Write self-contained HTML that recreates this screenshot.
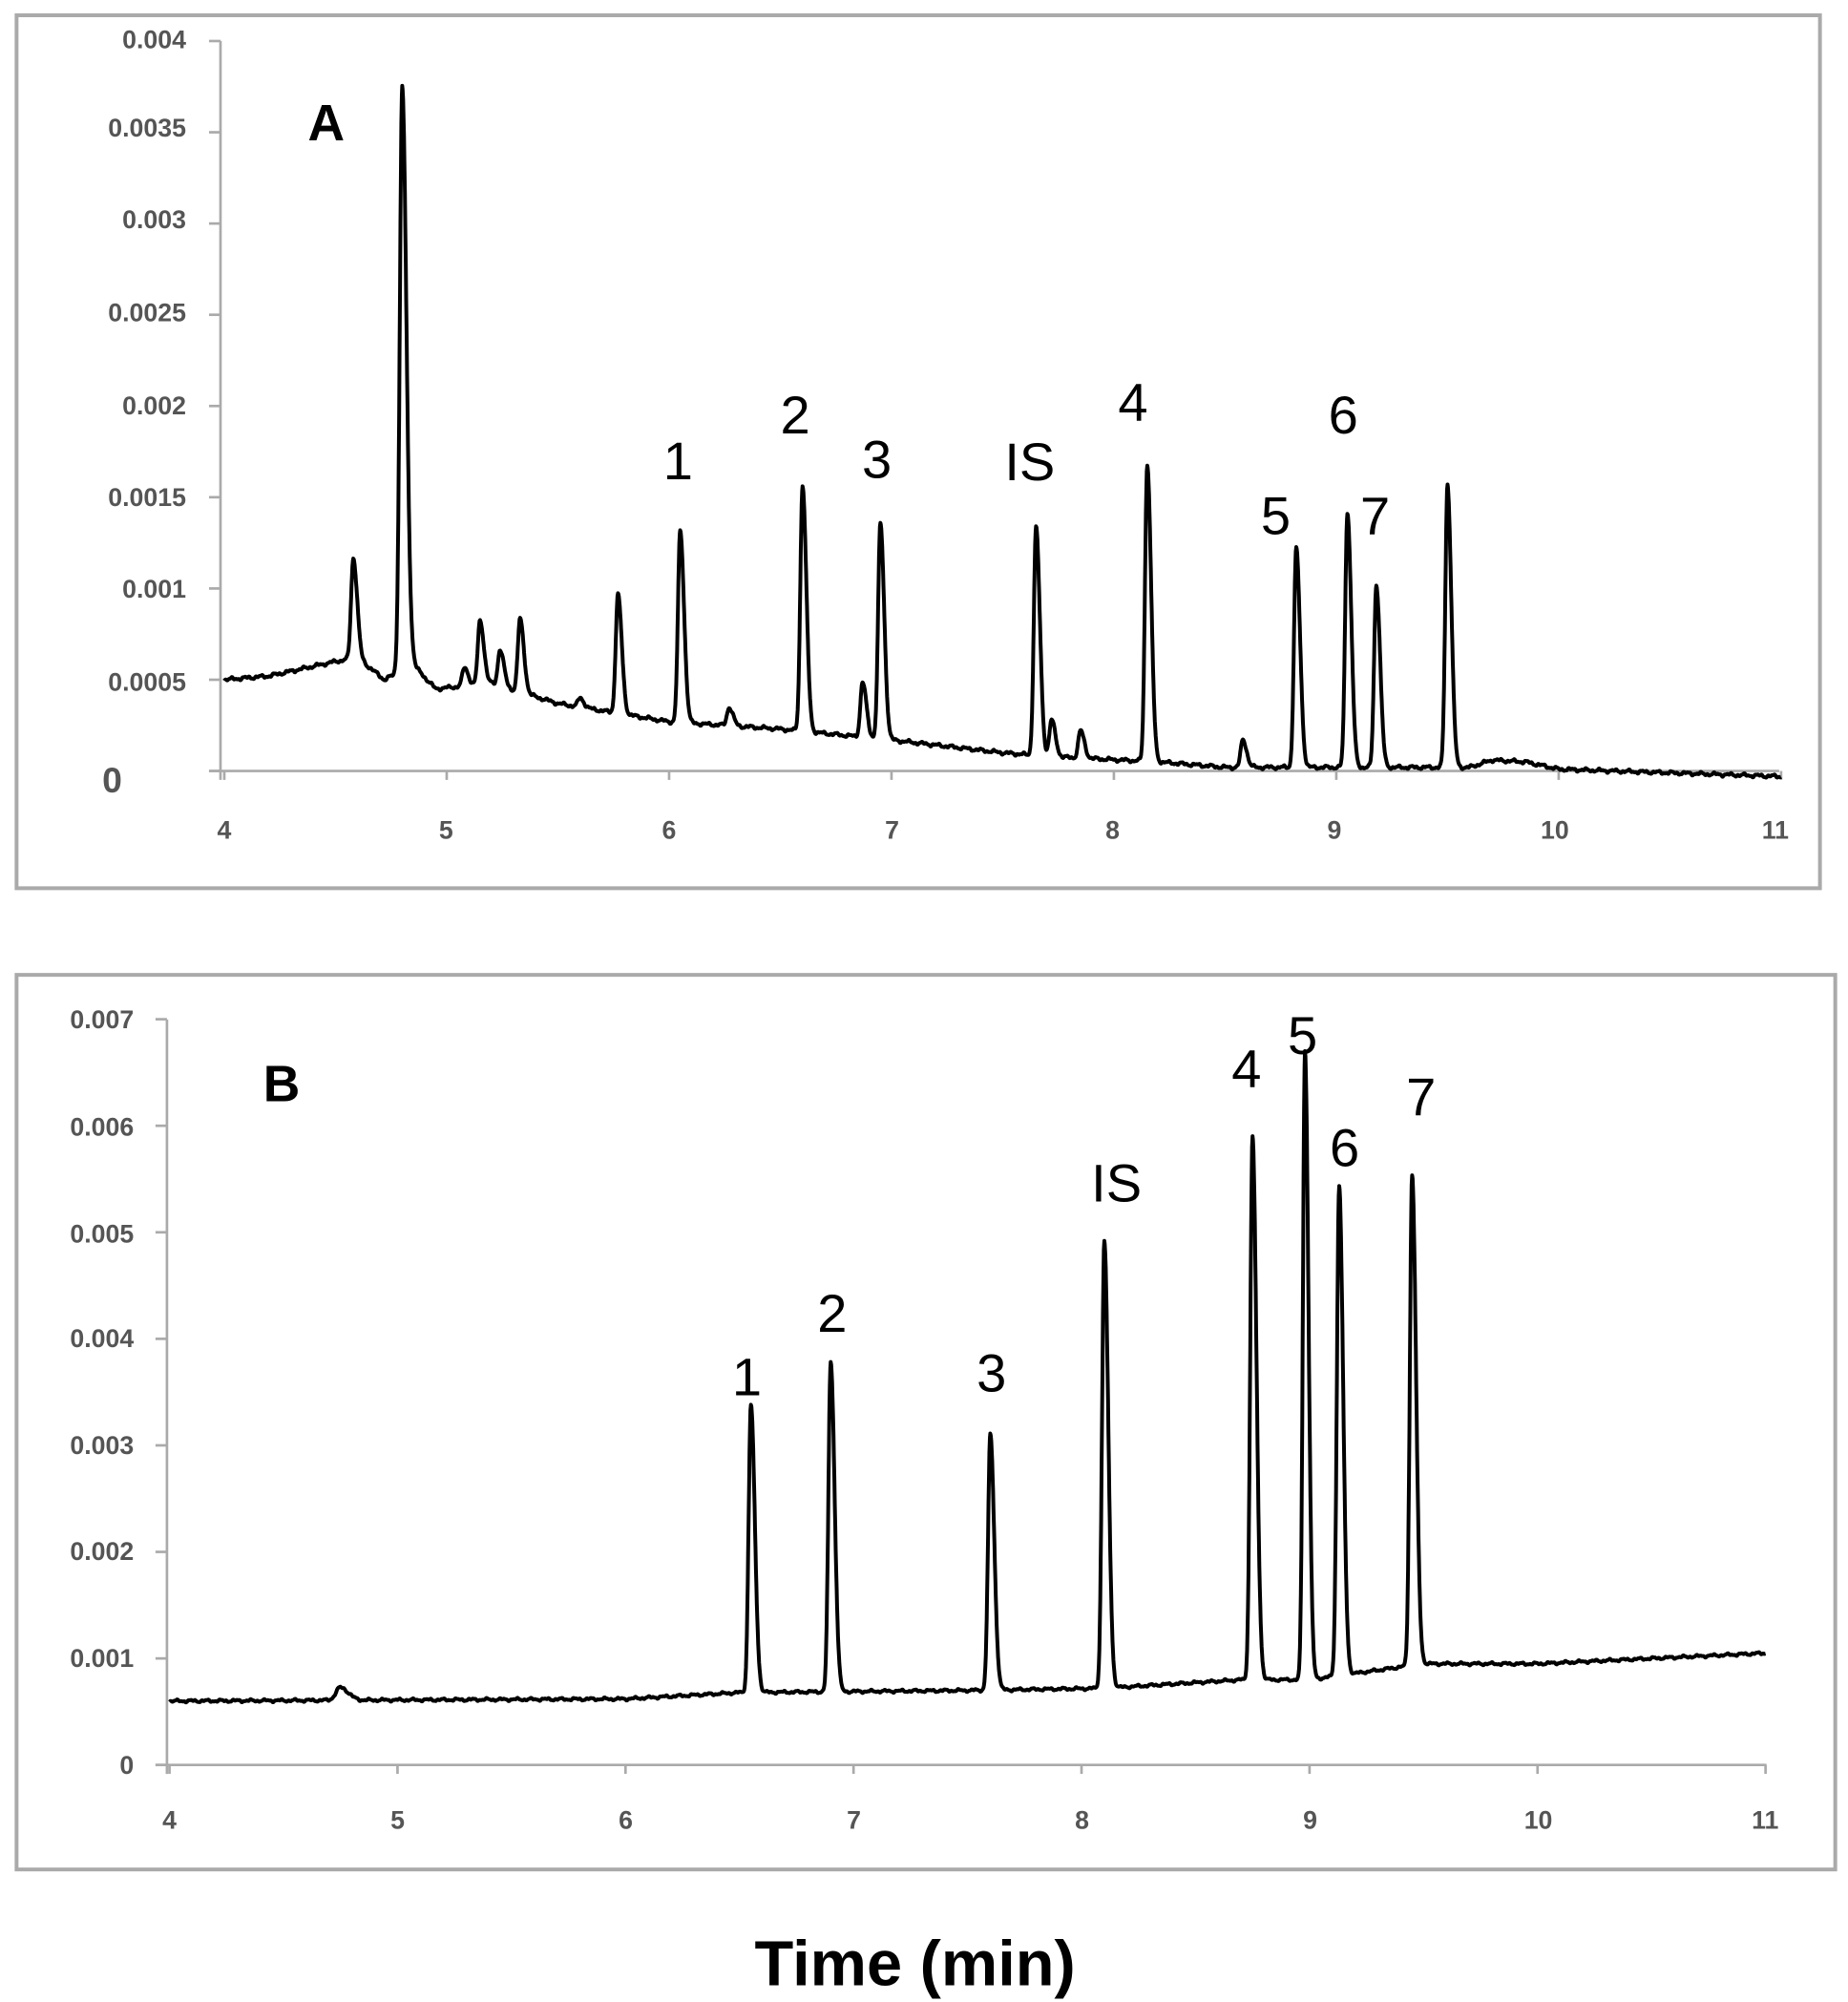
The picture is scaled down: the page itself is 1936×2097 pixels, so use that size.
<!DOCTYPE html>
<html><head><meta charset="utf-8"><style>
html,body{margin:0;padding:0;background:#fff;}
svg{display:block;}
text{font-family:"Liberation Sans",sans-serif;}
</style></head><body>
<svg id="s" width="1936" height="2097" viewBox="0 0 1450 1571" preserveAspectRatio="none" xmlns="http://www.w3.org/2000/svg">
<rect x="0" y="0" width="1450" height="1571" fill="#fff"/>
<rect x="13" y="12" width="1415" height="685" fill="none" stroke="#aaa" stroke-width="3"/>
<line x1="173" y1="32" x2="173" y2="612" stroke="#aaa" stroke-width="2"/>
<line x1="164" y1="605" x2="1396" y2="605" stroke="#aaa" stroke-width="2"/>
<g stroke="#aaa" stroke-width="2" id="ta"></g>
<g font-size="20" font-weight="bold" fill="#555" text-anchor="end">
<text x="146" y="38">0.004</text><text x="146" y="107">0.0035</text><text x="146" y="179">0.003</text>
<text x="146" y="252">0.0025</text><text x="146" y="325">0.002</text><text x="146" y="397">0.0015</text>
<text x="146" y="469">0.001</text><text x="146" y="542">0.0005</text>
</g>
<text x="88" y="622" font-size="28" font-weight="bold" fill="#555" text-anchor="middle">0</text>
<g font-size="20" font-weight="bold" fill="#555" text-anchor="middle">
<text x="176" y="658">4</text><text x="350" y="658">5</text><text x="525" y="658">6</text><text x="700" y="658">7</text>
<text x="873" y="658">8</text><text x="1047" y="658">9</text><text x="1220" y="658">10</text><text x="1393" y="658">11</text>
</g>
<text x="256" y="110" font-size="40" font-weight="bold" text-anchor="middle">A</text>
<g font-size="42" text-anchor="middle">
<text x="532" y="376">1</text><text x="624" y="340">2</text><text x="688" y="375">3</text><text x="808" y="377">IS</text>
<text x="889" y="330">4</text><text x="1054" y="340">6</text><text x="1001" y="419">5</text><text x="1079" y="419">7</text>
</g>
<path id="pa" fill="none" stroke="#000" stroke-width="3" stroke-linejoin="round"/>
<rect x="13" y="765" width="1427" height="702" fill="none" stroke="#aaa" stroke-width="3"/>
<line x1="131" y1="800" x2="131" y2="1392" stroke="#aaa" stroke-width="2"/>
<line x1="122" y1="1385" x2="1386" y2="1385" stroke="#aaa" stroke-width="2"/>
<g stroke="#aaa" stroke-width="2" id="tb"></g>
<g font-size="20" font-weight="bold" fill="#555" text-anchor="end">
<text x="105" y="807">0.007</text><text x="105" y="891">0.006</text><text x="105" y="975">0.005</text>
<text x="105" y="1057">0.004</text><text x="105" y="1141">0.003</text><text x="105" y="1224">0.002</text>
<text x="105" y="1308">0.001</text><text x="105" y="1392">0</text>
</g>
<g font-size="20" font-weight="bold" fill="#555" text-anchor="middle">
<text x="133" y="1435">4</text><text x="312" y="1435">5</text><text x="491" y="1435">6</text><text x="670" y="1435">7</text>
<text x="849" y="1435">8</text><text x="1028" y="1435">9</text><text x="1207" y="1435">10</text><text x="1385" y="1435">11</text>
</g>
<text x="221" y="864" font-size="40" font-weight="bold" text-anchor="middle">B</text>
<g font-size="42" text-anchor="middle">
<text x="586" y="1095">1</text><text x="653" y="1045">2</text><text x="778" y="1092">3</text><text x="876" y="943">IS</text>
<text x="978" y="853">4</text><text x="1022" y="827">5</text><text x="1055" y="915">6</text><text x="1115" y="875">7</text>
</g>
<path id="pb" fill="none" stroke="#000" stroke-width="3" stroke-linejoin="round"/>
<text x="718" y="1558" font-size="50" font-weight="bold" text-anchor="middle">Time (min)</text>
</svg>
<script>
function interp(pts,t){for(var i=0;i<pts.length-1;i++){if(t<=pts[i+1][0]){var a=pts[i],b=pts[i+1];return a[1]+(b[1]-a[1])*(t-a[0])/(b[0]-a[0]);}}return pts[pts.length-1][1];}
function peak(t,c,h,s){var d=t-c;var sg=d<0?s:s*1.7;return h*Math.exp(-d*d/(2*sg*sg));}
function build(id,x0,sx,y0,sy,base,peaks,noise){var d="";for(var t=4;t<=11.0001;t+=0.002){var v=interp(base,t)+noise*(Math.sin(t*97)+0.6*Math.sin(t*231)+0.4*Math.sin(t*413));for(var i=0;i<peaks.length;i++){v+=peak(t,peaks[i][0],peaks[i][1],peaks[i][2]||0.01);}var x=x0+(t-4)*sx,y=y0-v*sy;d+=(d?"L":"M")+x.toFixed(1)+","+y.toFixed(1);}document.getElementById(id).setAttribute("d",d);}
var bA=[[4,0.0005],[4.2,0.00052],[4.5,0.00060],[4.6,0.00062],[4.72,0.00050],[4.85,0.00058],[4.95,0.00045],[5.2,0.00048],[5.5,0.00037],[6,0.00027],[6.5,0.00023],[7,0.00017],[7.5,0.00010],[7.7,0.00008],[8.2,0.00005],[8.5,0.00002],[9.6,0.00002],[9.7,0.00006],[9.85,0.00005],[10,0.00001],[11,-0.00003]];
var pA=[[4.58,0.00055],[4.8,0.0032,0.011],[5.08,0.0001],[5.15,0.00035],[5.24,0.0002],[5.33,0.0004],[5.6,0.00005],[5.77,0.00065],[6.05,0.00105],[6.27,0.0001],[6.6,0.00135],[6.87,0.0003],[6.95,0.00118],[7.65,0.00125],[7.72,0.0002],[7.85,0.00015],[8.15,0.00163],[8.58,0.00015],[8.82,0.0012],[9.05,0.0014],[9.18,0.001],[9.5,0.00155]];
build("pa",176,174.5,605,143250,bA,pA,0.000006);
var bB=[[4,0.0006],[6,0.00062],[6.5,0.00068],[7.5,0.0007],[8.1,0.00072],[8.7,0.0008],[9.0,0.0008],[9.5,0.00095],[10,0.00095],[11,0.00105]];
var pB=[[4.75,0.00012,0.02],[6.55,0.0027],[6.9,0.0031],[7.6,0.0024],[8.1,0.0042],[8.75,0.0051],[8.98,0.0059,0.009],[9.13,0.0046],[9.45,0.0046]];
build("pb",133,178.9,1385,83600,bB,pB,0.000008);
var ta=document.getElementById("ta"),tb=document.getElementById("tb"),ns="http://www.w3.org/2000/svg";
function ln(g,x1,y1,x2,y2){var l=document.createElementNS(ns,"line");l.setAttribute("x1",x1);l.setAttribute("y1",y1);l.setAttribute("x2",x2);l.setAttribute("y2",y2);g.appendChild(l);}
for(var i=0;i<=8;i++){var y=605-i*71.6;ln(ta,164,y,173,y);}
for(var i=0;i<=7;i++){var x=176+i*174.5;ln(ta,x,605,x,612);}
for(var i=0;i<=7;i++){var y=1385-i*83.6;ln(tb,122,y,131,y);}
for(var i=0;i<=7;i++){var x=133+i*178.9;ln(tb,x,1385,x,1392);}
</script>
</body></html>
